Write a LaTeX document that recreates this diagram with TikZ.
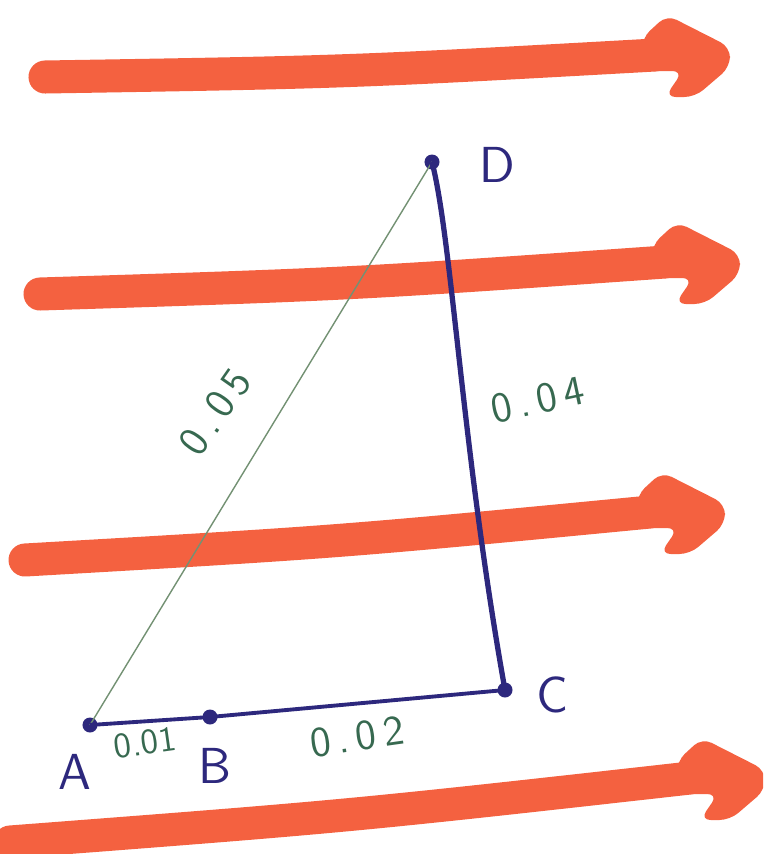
\documentclass[tikz,border=0pt]{standalone}
\usepackage{tikz}
\usetikzlibrary{calc}
\definecolor{fieldorange}{RGB}{244,97,64}
\definecolor{inknavy}{RGB}{45,40,125}
\definecolor{inkgreen}{RGB}{55,105,80}
\definecolor{pencilgreen}{RGB}{115,145,115}

\begin{document}
\begin{tikzpicture}[x=0.01cm, y=-0.01cm,
    fieldband/.style={fieldorange, line width=0.33cm, line cap=round},
    fieldhead/.style={fill=fieldorange, rounded corners=3pt},
    vertexdot/.style={circle, fill=inknavy, inner sep=0pt, minimum size=0.15cm},
    vertexlabel/.style={inknavy, font=\sffamily\Large},
    lengthlabel/.style={inkgreen, font=\sffamily\large}]
    \useasboundingbox (0,0) rectangle (763,854);
    \clip (0,0) rectangle (763,854);

    % Field arrows
    \foreach \xl/\yl/\xh/\yh in {45/77/655/55, 40/294/665/262,
                                 25/560/650/512, 10/842/690/778} {
        \draw[fieldband] (\xl,\yl)
            .. controls ({(\xl+\xh)/2},{(\yl+\yh)/2+6}) .. (\xh,\yh);
        \fill[fieldhead, shift={(\xh,\yh)}]
            (-13,-17) -- (12,-40) -- (75,-8) -- (75,12) -- (40,42)
            -- (10,42) -- (28,16) -- (-13,16) -- cycle;
    }

    % Vertices
    \node[vertexdot] (A) at (90,725) {};
    \node[vertexdot] (B) at (210,717) {};
    \node[vertexdot] (C) at (505,690) {};
    \node[vertexdot] (D) at (432,162) {};

    % Triangle sides
    \draw[pencilgreen, thin] (A.center) -- (D.center);
    \draw[inknavy, line width=1.1pt] (A.center) -- (B.center) -- (C.center);
    \draw[inknavy, line width=1.5pt] (D.center)
        .. controls (452,240) and (462,450) .. (C.center);

    % Vertex labels
    \node[vertexlabel] (labD) at (497,165) {D};
    \node[vertexlabel] (labC) at (552,695) {C};
    \node[vertexlabel] (labA) at (75,772) {A};
    \node[vertexlabel] (labB) at (215,766) {B};

    % Side lengths
    \node[lengthlabel, rotate=55] (lenAD) at (215,412) {0\,.\,0\,5};
    \node[lengthlabel, rotate=12] (lenCD) at (538,400) {0\,.\,0\,4};
    \node[lengthlabel, rotate=8, font=\sffamily] (lenAB) at (145,743) {0.01};
    \node[lengthlabel, rotate=8] (lenBC) at (357,737) {0\,.\,0\,2};
\end{tikzpicture}
\end{document}
